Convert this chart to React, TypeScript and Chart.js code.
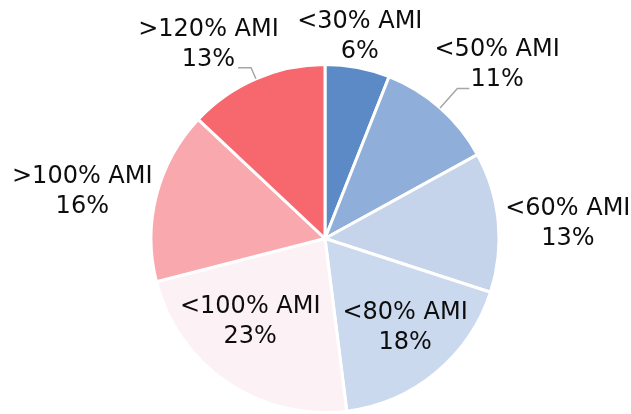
import React, { useEffect, useRef } from "react";
import { Chart, registerables } from "chart.js";

Chart.register(...registerables);

const categories = ["<30% AMI", "<50% AMI", "<60% AMI", "<80% AMI", "<100% AMI", ">100% AMI", ">120% AMI"];
const shares = [6, 11, 13, 18, 23, 16, 13];
const sliceColors = ["#5B8AC6", "#8FAFDA", "#C5D4EB", "#CBD9EE", "#FCF1F4", "#F9A8AE", "#F7676E"];

// label placement per slice: radial factor, angle offset (deg), optional leader line
const labelStyle = [
  { r: 1.175, dA: -1 },
  { r: 1.404, dA: 3.4, leader: { elbow: 1.15, len: 12 } },
  { r: 1.398, dA: 1.9 },
  { r: 0.688, dA: -2.4 },
  { r: 0.642, dA: 7.8 },
  { r: 1.421, dA: -3.4 },
  { r: 1.3, dA: -7.6, leader: { elbow: 1.07, len: -13 } },
];

const FONT = '24px "DejaVu Sans"';
const LINE_GAP = 30;

const labelPlugin = {
  id: "sliceLabels",
  afterDatasetsDraw(chart: any) {
    const ctx = chart.ctx;
    const meta = chart.getDatasetMeta(0);
    ctx.save();
    ctx.font = FONT;
    ctx.textAlign = "center";
    ctx.textBaseline = "middle";
    meta.data.forEach((arc: any, i: number) => {
      const st = labelStyle[i];
      const mid = (arc.startAngle + arc.endAngle) / 2;
      const R = arc.outerRadius;
      const a = mid + (st.dA * Math.PI) / 180;
      const cx = arc.x + Math.cos(a) * R * st.r;
      const cy = arc.y + Math.sin(a) * R * st.r;
      const line1 = categories[i];
      const line2 = shares[i] + "%";
      if (st.leader) {
        const sx = arc.x + Math.cos(mid) * R;
        const sy = arc.y + Math.sin(mid) * R;
        const ex = arc.x + Math.cos(mid) * R * st.leader.elbow;
        const ey = arc.y + Math.sin(mid) * R * st.leader.elbow;
        ctx.strokeStyle = "#A6A6A6";
        ctx.lineWidth = 1.5;
        ctx.beginPath();
        ctx.moveTo(sx, sy);
        ctx.lineTo(ex, ey);
        ctx.lineTo(ex + st.leader.len, ey);
        ctx.stroke();
      }
      ctx.fillStyle = "#0d0d0d";
      ctx.fillText(line1, cx, cy - LINE_GAP / 2);
      ctx.fillText(line2, cx, cy + LINE_GAP / 2);
    });
    ctx.restore();
  },
};

export default function App() {
  const ref = useRef<HTMLCanvasElement | null>(null);
  useEffect(() => {
    if (!ref.current) return;
    const chart = new Chart(ref.current, {
      type: "pie",
      data: {
        labels: categories,
        datasets: [
          {
            data: shares,
            backgroundColor: sliceColors,
            borderColor: "#ffffff",
            borderWidth: 3,
          },
        ],
      },
      options: {
        animation: false,
        responsive: false,
        layout: { padding: { left: 148, right: 129, top: 63, bottom: 0 } },
        plugins: {
          legend: { display: false },
          tooltip: { enabled: false },
          title: { display: false },
        },
      },
      plugins: [labelPlugin],
    });
    return () => chart.destroy();
  }, []);
  return (
    <div style={{ position: "absolute", left: 0, top: 0, width: 631, height: 414, background: "#fff" }}>
      <canvas ref={ref} width={631} height={414} />
    </div>
  );
}
